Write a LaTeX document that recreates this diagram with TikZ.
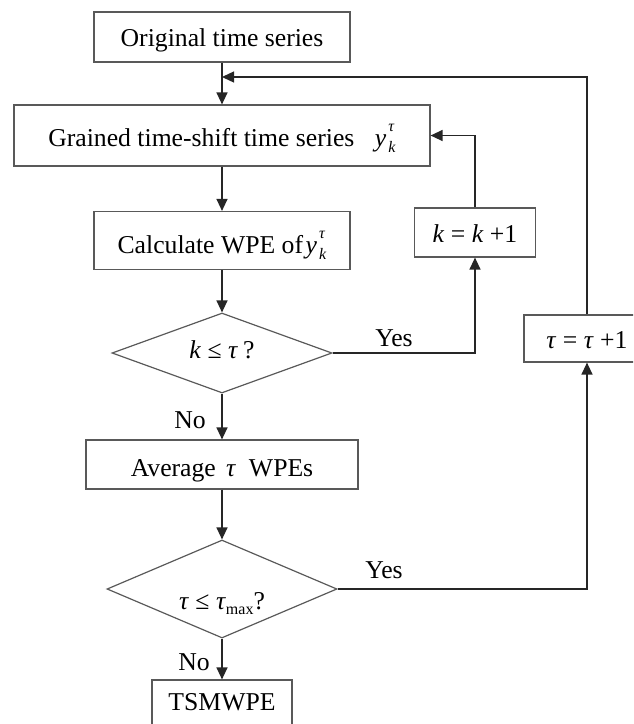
\documentclass[tikz,border=0pt]{standalone}
\usepackage{fontspec}
\setmainfont{Liberation Serif}
\usetikzlibrary{shapes.geometric,arrows.meta}
\newcommand\ykt{\textit{y}\kern2pt\rlap{\raisebox{15pt}{\fontsize{16}{16}\selectfont\textit{τ}}}\raisebox{-6pt}{\fontsize{16}{16}\selectfont\textit{k}}}
\begin{document}
\begin{tikzpicture}[x=1pt,y=-1pt,
  every node/.style={font=\fontsize{25.7}{30}\selectfont},
  box/.style={draw=black!65, line width=1.2pt, rectangle, inner sep=0pt, text depth=0pt},
  dec/.style={draw=black!65, line width=1.2pt, diamond, inner sep=0pt, text depth=0pt},
  arr/.style={draw=black!85, line width=1.3pt, -{Triangle[width=11pt,length=12pt]}},
  lbl/.style={inner sep=0pt}]
\useasboundingbox (0,0) rectangle (633,724);
\clip (0,0) rectangle (633,724);
\node[box, minimum width=256pt, minimum height=50pt, text height=18pt] (orig) at (222,37) {Original time series};
\node[box, minimum width=416pt, minimum height=61pt, text height=22pt] (grained) at (222,135.5) {Grained time-shift time series\hspace{0.8em}\ykt};
\node[box, minimum width=256pt, minimum height=58pt, text height=25pt] (calc) at (222,240.5) {Calculate WPE of\hspace{0.1em}\ykt};
\node[box, minimum width=121pt, minimum height=49pt, text height=19pt] (kbox) at (475,232.5) {\textit{k}\hspace{0.25em}=\hspace{0.25em}\textit{k}\hspace{0.25em}+1};
\node[dec, aspect=2.75, minimum width=220pt, minimum height=80pt, text height=10pt] (d1) at (222,353) {\textit{k}\hspace{0.25em}≤\hspace{0.25em}\textit{τ}\hspace{0.2em}?};
\node[box, minimum width=272pt, minimum height=49pt, text height=23pt] (avg) at (222,464.5) {Average\hspace{0.4em}\textit{τ}\hspace{0.5em}WPEs};
\node[dec, aspect=2.35, minimum width=230pt, minimum height=98pt, text height=40pt] (d2) at (222,589) {\textit{τ}\hspace{0.25em}≤\hspace{0.25em}\textit{τ}\raisebox{-5pt}{\fontsize{16}{16}\selectfont max}?};
\node[box, minimum width=126pt, minimum height=47pt, text height=19pt] (tau) at (587,338.5) {\textit{τ}\hspace{0.25em}=\hspace{0.25em}\textit{τ}\hspace{0.25em}+1};
\node[box, minimum width=140pt, minimum height=50pt, text height=10pt] (tsm) at (222,705) {TSMWPE};
\node[lbl] (yes1) at (394,338) {Yes};
\node[lbl] (yes2) at (384,570) {Yes};
\node[lbl] (no1) at (190,420) {No};
\node[lbl] (no2) at (194,662) {No};
\coordinate (join) at (222,77);
\draw[arr] (orig) -- (grained);
\draw[arr] (tau.north) |- (join);
\draw[arr] (grained) -- (calc);
\draw[arr] (calc) -- (d1);
\draw[arr] (d1) -- (avg);
\draw[arr] (avg) -- (d2);
\draw[arr] (d2) -- (tsm);
\draw[arr] (kbox.north) |- (grained.east);
\draw[arr] (d1.east) -| (kbox.south);
\draw[arr] (d2.east) -| (tau.south);
\end{tikzpicture}
\end{document}
